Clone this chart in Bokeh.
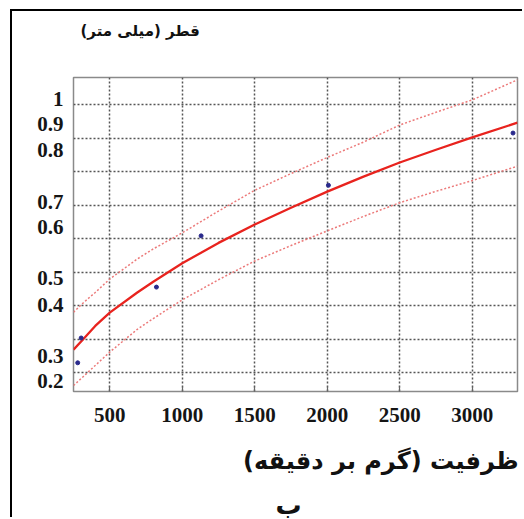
from bokeh.plotting import figure
from bokeh.models import FixedTicker, Range1d, Title
from bokeh.embed import file_html
from bokeh.resources import INLINE

# ---- data ----
curve_x = [250, 320, 400, 500, 690, 800, 1000, 1250, 1500, 1750, 2000, 2250, 2500, 2750, 3000, 3312]
fit_y   = [0.269, 0.302, 0.340, 0.380, 0.440, 0.472, 0.527, 0.588, 0.643, 0.693, 0.741,
           0.786, 0.828, 0.866, 0.903, 0.947]
upper_y = [0.381, 0.410, 0.440, 0.480, 0.540, 0.570, 0.618, 0.683, 0.745, 0.795, 0.843,
           0.889, 0.940, 0.978, 1.015, 1.075]
lower_y = [0.162, 0.190, 0.222, 0.262, 0.330, 0.362, 0.418, 0.478, 0.534, 0.580, 0.624,
           0.667, 0.708, 0.742, 0.774, 0.817]

obs_x = [279, 303, 822, 1130, 2008, 3281]
obs_y = [0.230, 0.304, 0.456, 0.609, 0.760, 0.916]

x_ticks = [500, 1000, 1500, 2000, 2500, 3000]
y_grid = [0.2, 0.3, 0.4, 0.5, 0.6, 0.7, 0.8, 0.9, 1.0]
y_tick_pos = [1.018, 0.942, 0.865, 0.711, 0.636, 0.483, 0.403, 0.250, 0.176]
y_tick_labels = ["1", "0.9", "0.8", "0.7", "0.6", "0.5", "0.4", "0.3", "0.2"]

y_title = "قطر (میلی متر)\u200f"
x_title = "ظرفیت (گرم بر دقیقه)\u200f"
panel_label = "ب"

p = figure(width=512, height=508, output_backend="svg", toolbar_location=None,
           x_range=Range1d(250, 3312), y_range=Range1d(0.1443, 1.0818),
           min_border_left=61, min_border_right=7, min_border_top=66, min_border_bottom=127)
p.title.visible = False
p.background_fill_color = "white"
p.border_fill_color = "white"
p.outline_line_color = "#8a8a8a"
p.outline_line_width = 1.5
# outer left/top border line of the figure panel
p.styles = {"position": "relative", "left": "12px", "top": "11px",
            "box-shadow": "-2px -2px 0 0 black"}

# axes
p.xaxis.ticker = FixedTicker(ticks=x_ticks)
p.yaxis.ticker = FixedTicker(ticks=y_tick_pos)
p.yaxis.major_label_overrides = {v: t for v, t in zip(y_tick_pos, y_tick_labels)}
for ax in (p.xaxis[0], p.yaxis[0]):
    ax.axis_line_color = None
    ax.major_tick_line_color = None
    ax.minor_tick_line_color = None
    ax.major_tick_in = 0
    ax.major_tick_out = 0
    ax.major_label_text_font = "Liberation Serif"
    ax.major_label_text_font_style = "bold"
    ax.major_label_text_font_size = "21px"
    ax.major_label_text_color = "#151515"
p.xaxis.major_tick_line_color = "#666666"
p.xaxis.major_tick_line_width = 1.2
p.xaxis.major_tick_in = 5
p.xaxis.major_label_standoff = 16
p.yaxis.major_label_standoff = 10

# grid
p.xgrid.ticker = FixedTicker(ticks=x_ticks)
p.ygrid.ticker = FixedTicker(ticks=y_grid)
for g in (p.xgrid[0], p.ygrid[0]):
    g.grid_line_color = "#555555"
    g.grid_line_width = 1.5
    g.grid_line_dash = "2 2"

# band lines and fit
p.line(curve_x, upper_y, line_color="#ec7a7a", line_width=1.5, line_dash="2 2")
p.line(curve_x, lower_y, line_color="#ec7a7a", line_width=1.5, line_dash="2 2")
p.line(curve_x, fit_y, line_color="#e8231e", line_width=2.3)
p.scatter(obs_x, obs_y, size=4, fill_color="#2a2a8c", line_color="#2a2a8c")

# texts (spacer titles keep the real titles away from the frame)
p.add_layout(Title(text=" ", text_font_size="1px", standoff=33), "above")
p.add_layout(Title(text=y_title, align="left", offset=7, standoff=4,
                   text_font="DejaVu Sans", text_font_style="bold", text_font_size="15px",
                   text_color="#111111"), "above")
p.add_layout(Title(text=" ", text_font_size="1px", standoff=5), "below")
p.add_layout(Title(text=x_title, align="right", offset=-1, standoff=25,
                   text_font="DejaVu Sans", text_font_style="bold", text_font_size="24px",
                   text_color="#111111"), "below")
p.add_layout(Title(text=panel_label, align="left", offset=202, standoff=0,
                   text_font="DejaVu Sans", text_font_style="bold", text_font_size="26px",
                   text_color="#111111"), "below")

open("out.html", "w").write(file_html(p, INLINE))
